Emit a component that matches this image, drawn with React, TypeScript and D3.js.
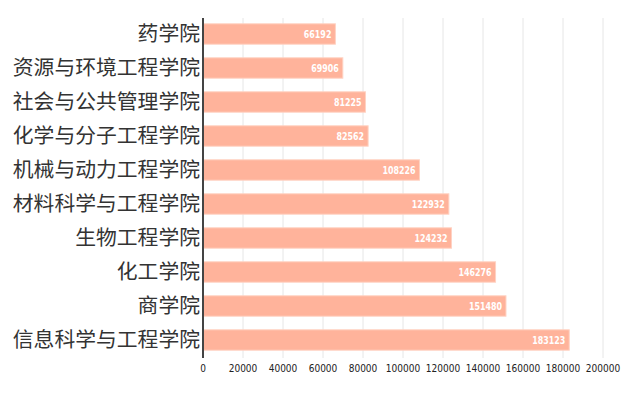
import React, { useEffect, useRef } from 'react';
import * as d3 from 'd3';

const colleges = [
  '药学院',
  '资源与环境工程学院',
  '社会与公共管理学院',
  '化学与分子工程学院',
  '机械与动力工程学院',
  '材料科学与工程学院',
  '生物工程学院',
  '化工学院',
  '商学院',
  '信息科学与工程学院',
];
const values = [66192, 69906, 81225, 82562, 108226, 122932, 124232, 146276, 151480, 183123];
const xTicks = [0, 20000, 40000, 60000, 80000, 100000, 120000, 140000, 160000, 180000, 200000];

const W = 644;
const H = 401;

const App: React.FC = () => {
  const svgRef = useRef<SVGSVGElement>(null);

  useEffect(() => {
    if (!svgRef.current) return;
    document.body.style.margin = '0';
    const svg = d3.select(svgRef.current);
    svg.selectAll('*').remove();

    const x = d3.scaleLinear().domain([0, 200000]).range([203, 603]);
    const y = d3.scaleBand<string>()
      .domain(colleges)
      .range([17, 357])
      .paddingInner(0.4)
      .paddingOuter(0.2);

    // grid
    svg.append('g')
      .selectAll('line')
      .data(xTicks.slice(1))
      .enter()
      .append('line')
      .attr('x1', d => x(d))
      .attr('x2', d => x(d))
      .attr('y1', 18)
      .attr('y2', 358)
      .attr('stroke', '#e6e6e6')
      .attr('stroke-width', 1);

    // bars
    svg.append('g')
      .selectAll('rect')
      .data(values)
      .enter()
      .append('rect')
      .attr('x', x(0))
      .attr('y', (_, i) => y(colleges[i]) as number)
      .attr('width', d => x(d) - x(0))
      .attr('height', y.bandwidth())
      .attr('fill', '#ffb39b')
      .attr('stroke', '#ffd2c3')
      .attr('stroke-width', 1);

    // value labels (narrow bold digits)
    svg.append('g')
      .selectAll('text')
      .data(values)
      .enter()
      .append('text')
      .attr('transform', (d, i) =>
        `translate(${x(d) - 4},${(y(colleges[i]) as number) + y.bandwidth() / 2}) scale(0.8,1)`)
      .attr('dy', '0.37em')
      .attr('text-anchor', 'end')
      .style('font-family', '"DejaVu Sans Condensed", "DejaVu Sans", sans-serif')
      .style('font-stretch', 'condensed')
      .style('font-weight', 'bold')
      .style('font-size', '11px')
      .style('fill', '#ffffff')
      .text(d => String(d));

    // y axis line
    svg.append('line')
      .attr('x1', x(0))
      .attr('x2', x(0))
      .attr('y1', 18)
      .attr('y2', 358)
      .attr('stroke', '#444')
      .attr('stroke-width', 2);

    // category labels
    svg.append('g')
      .selectAll('text')
      .data(colleges)
      .enter()
      .append('text')
      .attr('x', 200)
      .attr('y', d => (y(d) as number) + y.bandwidth() / 2)
      .attr('dy', '0.36em')
      .attr('text-anchor', 'end')
      .style('font-family', '"Noto Sans CJK SC", sans-serif')
      .style('font-size', '20.8px')
      .style('fill', '#333')
      .text(d => d);

    // x tick labels
    svg.append('g')
      .selectAll('text')
      .data(xTicks)
      .enter()
      .append('text')
      .attr('x', d => x(d))
      .attr('y', 368)
      .attr('dy', '0.36em')
      .attr('text-anchor', 'middle')
      .style('font-family', '"DejaVu Sans Condensed", "DejaVu Sans", sans-serif')
      .style('font-stretch', 'condensed')
      .style('font-size', '10px')
      .style('fill', '#222')
      .text(d => String(d));
  }, []);

  return <svg ref={svgRef} width={W} height={H} style={{ display: 'block', background: '#fff' }} />;
};

export default App;
